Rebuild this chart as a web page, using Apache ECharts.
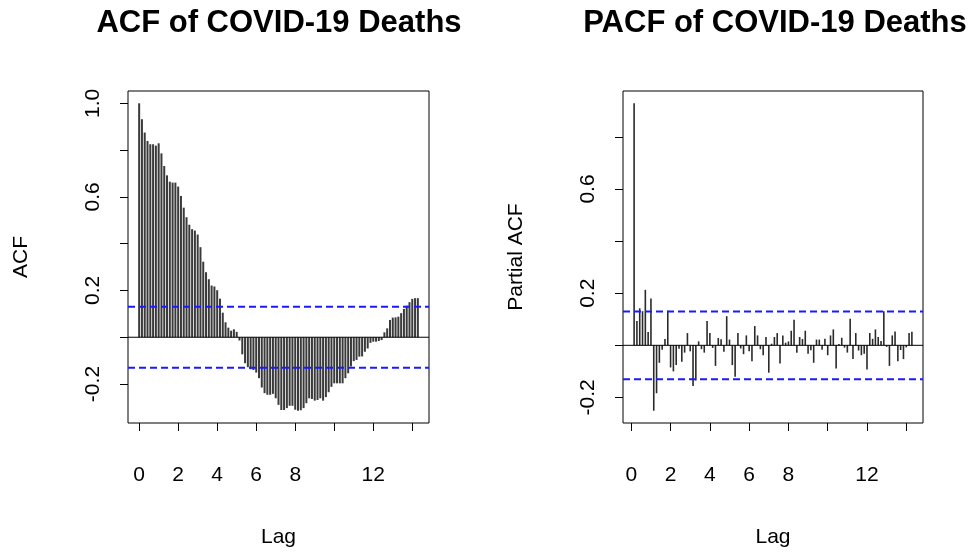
<!DOCTYPE html>
<html>
<head>
<meta charset="utf-8">
<script src="https://cdn.jsdelivr.net/npm/echarts@6/dist/echarts.min.js"></script>
<style>
  html, body { margin: 0; padding: 0; background: #fff; }
  #chart { width: 973px; height: 553px; }
</style>
</head>
<body>
<div id="chart"></div>
<script>
// Daily series with weekly frequency: lag k is shown as k / FREQ
const FREQ = 7;

// Sample autocorrelations, lags 0..100
const acfValues = [
  1.000, 0.932, 0.875, 0.839, 0.825, 0.825, 0.819, 0.829, 0.786, 0.732,
  0.692, 0.665, 0.661, 0.661, 0.644, 0.604, 0.554, 0.513, 0.481, 0.462,
  0.456, 0.439, 0.385, 0.323, 0.278, 0.248, 0.221, 0.217, 0.201, 0.165,
  0.105, 0.064, 0.041, 0.028, 0.034, 0.023, -0.014, -0.073, -0.111, -0.128,
  -0.137, -0.140, -0.151, -0.175, -0.215, -0.239, -0.246, -0.246, -0.242, -0.261,
  -0.289, -0.311, -0.311, -0.303, -0.293, -0.293, -0.310, -0.314, -0.312, -0.303,
  -0.282, -0.261, -0.264, -0.271, -0.268, -0.261, -0.271, -0.256, -0.235, -0.212,
  -0.197, -0.197, -0.197, -0.197, -0.175, -0.154, -0.125, -0.102, -0.097, -0.083,
  -0.082, -0.062, -0.048, -0.024, -0.019, -0.019, -0.016, -0.012, 0.021, 0.038,
  0.074, 0.084, 0.085, 0.088, 0.103, 0.121, 0.135, 0.150, 0.164, 0.167,
  0.167
];

// Sample partial autocorrelations, lags 1..100
const pacfValues = [
  0.929, 0.093, 0.142, 0.131, 0.213, 0.051, 0.180, -0.251, -0.184, -0.067,
  -0.017, 0.024, 0.133, -0.085, -0.100, -0.076, -0.013, -0.063, -0.028, 0.047,
  -0.023, -0.156, -0.135, 0.015, -0.015, -0.028, 0.093, 0.047, -0.010, -0.079,
  0.028, 0.023, -0.025, 0.112, 0.022, -0.076, -0.121, 0.047, -0.012, -0.034,
  0.038, -0.023, -0.061, 0.074, 0.038, -0.015, -0.038, 0.032, -0.105, 0.006,
  0.032, 0.047, -0.070, 0.038, 0.010, 0.015, 0.056, 0.098, -0.029, 0.032,
  0.024, 0.056, -0.032, -0.019, -0.067, 0.022, 0.022, -0.017, 0.025, -0.038,
  0.038, 0.061, -0.089, 0.005, 0.029, -0.009, -0.028, 0.102, -0.053, 0.047,
  -0.020, -0.038, -0.032, -0.093, 0.047, 0.025, 0.061, 0.032, 0.017, 0.131,
  -0.006, -0.079, 0.038, 0.053, -0.061, -0.018, -0.053, -0.008, 0.047, 0.052
];

// 95% significance bound
const confBound = 0.13;

// Tick positions and labelled ticks
const lagTicks = [0, 2, 4, 6, 8, 10, 12, 14];
const lagLabels = [0, 2, 4, 6, 8, 12];
const acfTicks = [-0.2, 0, 0.2, 0.4, 0.6, 0.8, 1.0];
const acfLabels = [-0.2, 0.2, 0.6, 1.0];
const pacfTicks = [-0.2, 0, 0.2, 0.4, 0.6, 0.8];
const pacfLabels = [-0.2, 0.2, 0.6];

const FONT = 'Liberation Sans, Arial, sans-serif';

// 4% padded range, as in the usual base-graphics axis style
function padded(lo, hi) {
  const d = (hi - lo) * 0.04;
  return [lo - d, hi + d];
}

const acfData = acfValues.map((v, i) => [i / FREQ, v]);
const pacfData = pacfValues.map((v, i) => [(i + 1) / FREQ, v]);

const acfX = padded(0, (acfValues.length - 1) / FREQ);
const acfY = padded(Math.min(-confBound, ...acfValues), Math.max(confBound, ...acfValues));
const pacfX = padded(1 / FREQ, pacfValues.length / FREQ);
const pacfY = padded(Math.min(-confBound, ...pacfValues), Math.max(confBound, ...pacfValues));

function xAxisCfg(gridIndex, range) {
  return {
    type: 'value', gridIndex, min: range[0], max: range[1],
    name: 'Lag', nameLocation: 'middle', nameGap: 104,
    nameTextStyle: { fontFamily: FONT, fontSize: 21, color: '#000' },
    axisLine: { show: false, onZero: false },
    splitLine: { show: false },
    axisTick: { show: true, inside: false, length: 8, lineStyle: { color: '#000' }, customValues: lagTicks },
    axisLabel: {
      fontFamily: FONT, fontSize: 21, color: '#000', margin: 42,
      customValues: lagLabels, formatter: v => String(v)
    }
  };
}

function yAxisCfg(gridIndex, range, name, ticks, labels) {
  return {
    type: 'value', gridIndex, min: range[0], max: range[1],
    name, nameLocation: 'middle', nameGap: 96, nameRotate: 90,
    nameTextStyle: { fontFamily: FONT, fontSize: 21, color: '#000' },
    axisLine: { show: false, onZero: false },
    splitLine: { show: false },
    axisTick: { show: true, inside: false, length: 8, lineStyle: { color: '#000' }, customValues: ticks },
    axisLabel: {
      fontFamily: FONT, fontSize: 21, color: '#000', margin: 24, rotate: 90,
      customValues: labels, formatter: v => v.toFixed(1)
    }
  };
}

// Horizontal reference line spanning the whole plot region
function hLine(axisIndex, xRange, y, color, type, width) {
  return {
    type: 'line', xAxisIndex: axisIndex, yAxisIndex: axisIndex,
    data: [[xRange[0], y], [xRange[1], y]],
    showSymbol: false, symbol: 'none', silent: true, z: 3,
    lineStyle: { color, width, type },
    itemStyle: { color }
  };
}

const chart = echarts.init(document.getElementById('chart'), null, { renderer: 'canvas' });
chart.setOption({
  animation: false,
  backgroundColor: '#fff',
  title: [
    { text: 'ACF of COVID-19 Deaths', left: 274, top: 3, textAlign: 'center',
      textStyle: { fontFamily: FONT, fontSize: 31, fontWeight: 'bold', color: '#000' } },
    { text: 'PACF of COVID-19 Deaths', left: 770, top: 3, textAlign: 'center',
      textStyle: { fontFamily: FONT, fontSize: 31, fontWeight: 'bold', color: '#000' } }
  ],
  grid: [
    { left: 128, top: 91, width: 301, height: 332, show: true, borderColor: '#000', borderWidth: 1, backgroundColor: 'transparent' },
    { left: 623, top: 91, width: 300, height: 332, show: true, borderColor: '#000', borderWidth: 1, backgroundColor: 'transparent' }
  ],
  xAxis: [xAxisCfg(0, acfX), xAxisCfg(1, pacfX)],
  yAxis: [
    yAxisCfg(0, acfY, 'ACF', acfTicks, acfLabels),
    yAxisCfg(1, pacfY, 'Partial ACF', pacfTicks, pacfLabels)
  ],
  series: [
    {
      type: 'bar', name: 'ACF', xAxisIndex: 0, yAxisIndex: 0,
      data: acfData, barWidth: 2,
      itemStyle: { color: '#3a3a3a' }
    },
    {
      type: 'bar', name: 'PACF', xAxisIndex: 1, yAxisIndex: 1,
      data: pacfData, barWidth: 1.6,
      itemStyle: { color: '#2a2a2a' }
    },
    hLine(0, acfX, 0, '#000000', 'solid', 1),
    hLine(1, pacfX, 0, '#000000', 'solid', 1),
    hLine(0, acfX, confBound, '#1a1aff', [7, 4], 2),
    hLine(0, acfX, -confBound, '#1a1aff', [7, 4], 2),
    hLine(1, pacfX, confBound, '#1a1aff', [7, 4], 2),
    hLine(1, pacfX, -confBound, '#1a1aff', [7, 4], 2)
  ]
});
</script>
</body>
</html>
